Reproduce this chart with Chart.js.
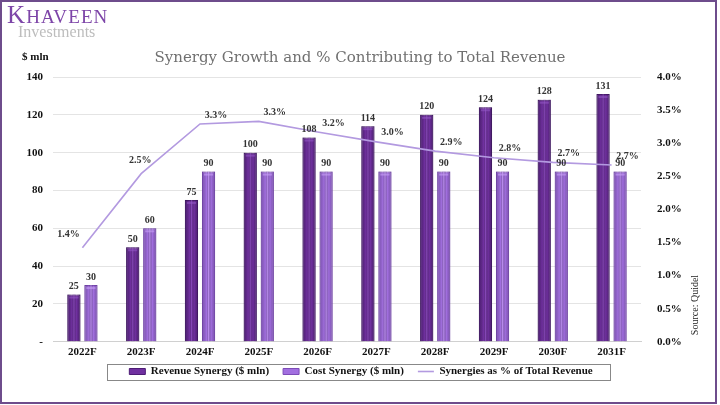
<!DOCTYPE html>
<html>
<head>
<meta charset="utf-8">
<script src="https://cdn.jsdelivr.net/npm/chart.js@4.4.1/dist/chart.umd.min.js"></script>
<style>
  html, body { margin: 0; padding: 0; background: #fff; }
  #wrap { position: relative; width: 720px; height: 405px; overflow: hidden; }
  #frame { position: absolute; left: 0; top: 0; width: 713px; height: 400px; border: 2px solid #6e4c8c; box-sizing: content-box; pointer-events: none; }
  #logo1 { position: absolute; left: 7px; top: 1px; font-family: "Liberation Serif", serif; color: #7d45a8; font-size: 19px; letter-spacing: 1.1px; }
  #logo1 .big { font-size: 25px; }
  #logo2 { position: absolute; left: 18px; top: 23px; font-family: "Liberation Serif", serif; color: #bdbdbd; font-size: 16px; }
  #title { position: absolute; left: 0; width: 720px; top: 48px; text-align: center; font-family: "DejaVu Serif", serif; color: #707070; font-size: 15px; }
  #unit { position: absolute; left: 22px; top: 50px; font-family: "Liberation Serif", serif; font-weight: bold; font-size: 11px; color: #111; }
  #source { position: absolute; left: 694px; top: 305px; font-family: "Liberation Serif", serif; font-size: 10px; color: #222; transform: translate(-50%, -50%) rotate(-90deg); white-space: nowrap; }
  canvas { position: absolute; left: 0; top: 0; }
</style>
</head>
<body>
<div id="wrap">
  <canvas id="grafico" width="720" height="405"></canvas>
  <div id="logo1"><span class="big">K</span>HAVEEN</div>
  <div id="logo2">Investments</div>
  <div id="title">Synergy Growth and % Contributing to Total Revenue</div>
  <div id="unit">$ mln</div>
  <div id="source">Source: Quidel</div>
  <div id="frame"></div>
</div>
<script>
// Datos del grafico
const anios = ["2022F", "2023F", "2024F", "2025F", "2026F", "2027F", "2028F", "2029F", "2030F", "2031F"];
const sinergiaIngresos = [25, 50, 75, 100, 108, 114, 120, 124, 128, 131];
const sinergiaCostos = [30, 60, 90, 90, 90, 90, 90, 90, 90, 90];
const porcentajeIngresos = [1.42, 2.54, 3.29, 3.33, 3.17, 3.02, 2.88, 2.78, 2.71, 2.67];
const ticksIzquierda = ["-", "20", "40", "60", "80", "100", "120", "140"];

const fuenteSerif = "'Liberation Serif', 'Times New Roman', serif";

// Plugin para sombrear las barras (efecto cilindro)
const sombraBarras = {
  id: "sombraBarras",
  afterDatasetDraw(chart, args) {
    const meta = args.meta;
    if (meta.type !== "bar") return;
    const ctx = chart.ctx;
    const claro = args.index === 1 ? "rgba(150,90,200,0.55)" : "rgba(200,160,245,0.6)";
    const oscuro = args.index === 1 ? "rgba(40,10,70,0.45)" : "rgba(90,50,140,0.4)";
    meta.data.forEach((bar) => {
      const left = bar.x - bar.width / 2;
      const top = bar.y;
      const h = bar.base - bar.y;
      const g = ctx.createLinearGradient(left, 0, left + bar.width, 0);
      g.addColorStop(0, oscuro);
      g.addColorStop(0.35, "rgba(0,0,0,0)");
      g.addColorStop(0.5, claro);
      g.addColorStop(0.7, "rgba(0,0,0,0)");
      g.addColorStop(1, oscuro);
      ctx.save();
      ctx.fillStyle = g;
      ctx.fillRect(left, top, bar.width, h);
      ctx.fillStyle = claro;
      ctx.fillRect(left + 2, top + 2, bar.width - 4, 2);
      ctx.restore();
    });
  },
};

// Plugin para las etiquetas de valores
const etiquetas = {
  id: "etiquetas",
  afterDatasetsDraw(chart) {
    const ctx = chart.ctx;
    ctx.save();
    ctx.font = "bold 10px " + fuenteSerif;
    ctx.fillStyle = "#333";
    ctx.textAlign = "center";
    chart.data.datasets.forEach((ds, i) => {
      const meta = chart.getDatasetMeta(i);
      meta.data.forEach((el, j) => {
        if (ds.type === "line") {
          // los dos primeros van a la izquierda/arriba, el resto a la derecha
          const dx = j === 0 ? -14 : j === 1 ? -1 : 16;
          const dy = j < 2 ? -13 : -9;
          ctx.textBaseline = "middle";
          ctx.fillText(ds.data[j].toFixed(1) + "%", el.x + dx, el.y + dy);
        } else {
          ctx.textBaseline = "bottom";
          ctx.fillText(ds.data[j], el.x, el.y - 3);
        }
      });
    });
    ctx.restore();
  },
};

// Plugin para el borde de la leyenda
const bordeLeyenda = {
  id: "bordeLeyenda",
  afterDraw(chart) {
    const legend = chart.legend;
    if (!legend || !legend.legendHitBoxes.length) return;
    const boxes = legend.legendHitBoxes;
    const left = Math.min(...boxes.map((b) => b.left)) - 22;
    const right = Math.max(...boxes.map((b) => b.left + b.width)) + 18;
    const centro = boxes[0].top + boxes[0].height / 2;
    const ctx = chart.ctx;
    ctx.save();
    ctx.strokeStyle = "#888";
    ctx.lineWidth = 1;
    ctx.strokeRect(Math.round(left) + 0.5, Math.round(centro - 8) + 0.5, Math.round(right - left), 16);
    ctx.restore();
  },
};

const contexto = document.getElementById("grafico").getContext("2d");
new Chart(contexto, {
  data: {
    labels: anios,
    datasets: [
      {
        type: "line",
        label: "Synergies as % of Total Revenue",
        data: porcentajeIngresos,
        yAxisID: "y1",
        borderColor: "#b39ae0",
        backgroundColor: "#b39ae0",
        borderWidth: 1.6,
        pointRadius: 0,
        tension: 0,
        pointStyle: "line",
        order: 0,
      },
      {
        type: "bar",
        label: "Revenue Synergy ($ mln)",
        data: sinergiaIngresos,
        yAxisID: "y",
        backgroundColor: "#7030a0",
        borderColor: "#4d1c75",
        borderWidth: 1,
        barPercentage: 0.77,
        categoryPercentage: 0.58,
        pointStyle: "rect",
        order: 1,
      },
      {
        type: "bar",
        label: "Cost Synergy ($ mln)",
        data: sinergiaCostos,
        yAxisID: "y",
        backgroundColor: "#a26fe0",
        borderColor: "#7d4cb8",
        borderWidth: 1,
        barPercentage: 0.77,
        categoryPercentage: 0.58,
        pointStyle: "rect",
        order: 1,
      },
    ],
  },
  plugins: [sombraBarras, etiquetas, bordeLeyenda],
  options: {
    responsive: false,
    animation: false,
    layout: { padding: { left: 10, right: 8, top: 77, bottom: 18 } },
    plugins: {
      title: { display: false },
      tooltip: { enabled: false },
      legend: {
        position: "bottom",
        labels: {
          usePointStyle: true,
          pointStyleWidth: 16,
          boxHeight: 6,
          padding: 3,
          color: "#111",
          font: { family: fuenteSerif, size: 11, weight: "bold" },
          sort: (a, b) => [1, 2, 0].indexOf(a.datasetIndex) - [1, 2, 0].indexOf(b.datasetIndex),
          generateLabels: (chart) => {
            const items = Chart.defaults.plugins.legend.labels.generateLabels(chart);
            // espacio extra entre los elementos de la leyenda
            items.forEach((it) => { if (it.datasetIndex !== 0) it.text += "    "; });
            return items;
          },
        },
      },
    },
    scales: {
      x: {
        grid: { display: false, drawTicks: false },
        border: { color: "#d0d0d0" },
        ticks: { color: "#111", padding: 4, font: { family: fuenteSerif, size: 11, weight: "bold" } },
      },
      y: {
        position: "left",
        min: 0,
        max: 140,
        afterFit: (scale) => { scale.width = 43; },
        grid: { color: "#e4e4e4", drawTicks: false },
        border: { display: false },
        ticks: {
          stepSize: 20,
          padding: 10,
          color: "#111",
          font: { family: fuenteSerif, size: 11, weight: "bold" },
          callback: (v, i) => ticksIzquierda[i],
        },
      },
      y1: {
        position: "right",
        min: 0,
        max: 4,
        afterFit: (scale) => { scale.width = 71; },
        grid: { display: false, drawTicks: false },
        border: { display: false },
        ticks: {
          stepSize: 0.5,
          padding: 16,
          color: "#111",
          font: { family: fuenteSerif, size: 11, weight: "bold" },
          callback: (v) => v.toFixed(1) + "%",
        },
      },
    },
  },
});
</script>
</body>
</html>
